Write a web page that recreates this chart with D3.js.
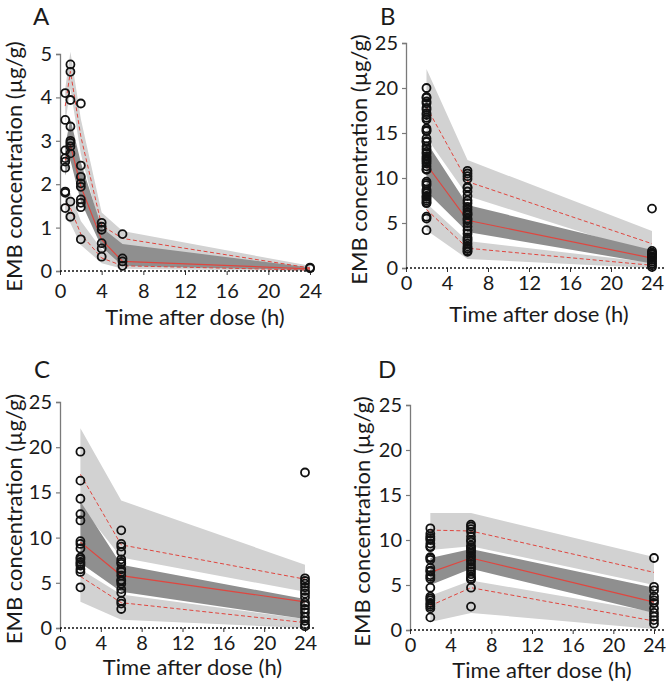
<!DOCTYPE html>
<html><head><meta charset="utf-8">
<script src="https://cdn.jsdelivr.net/npm/d3@7"></script>
<style>
html,body{margin:0;padding:0;background:#fff;}
svg text{font-family:Lato, "Open Sans", sans-serif;fill:#1a1a1a;}
</style></head>
<body><svg id="c" width="666" height="684"></svg>
<script>
// ---------- DATA ----------
const xTicks = [0, 4, 8, 12, 16, 20, 24];
const yTicksA = [0, 1, 2, 3, 4, 5];
const yTicksBCD = [0, 5, 10, 15, 20, 25];
const panelLetters = ["A", "B", "C", "D"];
const xLabel = "Time after dose (h)";
const yLabel = "EMB concentration (µg/g)";

// Panel A
const aTimes = [0.5, 1, 2, 4, 6, 24];
const aP95 = [3.8, 4.6, 3.1, 1.05, 0.75, 0.07];
const aP95Lo = [3.4, 4.2, 2.7, 0.85, 0.6, 0.04];
const aP95Hi = [4.2, 5.05, 3.5, 1.35, 0.92, 0.12];
const aP50 = [2.55, 2.9, 1.95, 0.72, 0.22, 0.05];
const aP50Lo = [2.2, 2.55, 1.6, 0.55, 0.12, 0.02];
const aP50Hi = [2.9, 3.5, 2.5, 1.0, 0.62, 0.08];
const aP5 = [1.55, 1.45, 0.85, 0.3, 0.12, 0.02];
const aP5Lo = [1.2, 1.1, 0.6, 0.18, 0.05, 0.0];
const aP5Hi = [1.75, 1.8, 1.15, 0.5, 0.22, 0.04];
const aObsTimes = [0.5, 1, 2, 4, 6, 24];
const aObsValues = [
  [4.1, 3.48, 2.78, 2.6, 2.52, 2.38, 1.83, 1.8, 1.45],
  [4.76, 4.59, 3.94, 3.33, 3.0, 2.95, 2.87, 2.71, 1.6, 1.25],
  [3.86, 2.43, 2.17, 2.02, 1.94, 1.65, 1.57, 1.47, 0.73],
  [1.11, 1.02, 0.95, 0.64, 0.52, 0.33],
  [0.85, 0.29, 0.22, 0.12],
  [0.06, 0.08]
];

// Panel B
const bTimes = [2, 6, 24];
const bP95 = [17.9, 9.6, 2.7];
const bP95Lo = [14.5, 8.0, 1.5];
const bP95Hi = [22.1, 12.0, 4.1];
const bP50 = [11.5, 5.3, 1.1];
const bP50Lo = [8.5, 4.0, 0.5];
const bP50Hi = [14.0, 7.0, 2.0];
const bP5 = [6.5, 2.2, 0.3];
const bP5Lo = [4.2, 1.0, 0.0];
const bP5Hi = [7.2, 3.0, 0.6];
const bObsTimes = [2, 6, 24];
const bObsValues = [
  [20.0, 19.0, 18.9, 18.5, 18.3, 17.8, 17.6, 17.2, 17.0, 16.7, 16.5, 15.5, 15.3, 15.2, 14.4, 14.1, 14.0, 13.5, 13.2, 12.9, 12.7, 12.4, 12.2, 12.0, 11.8, 11.6, 11.3, 11.0, 10.9, 9.6, 9.4, 9.2, 8.7, 8.5, 8.3, 8.0, 7.9, 7.7, 7.5, 7.3, 7.2, 5.7, 5.5, 4.2],
  [10.8, 10.5, 10.2, 9.9, 9.0, 8.9, 8.5, 8.0, 7.5, 7.2, 6.8, 6.5, 6.2, 6.0, 5.9, 5.5, 5.3, 5.0, 4.6, 4.2, 3.8, 3.4, 3.2, 3.0, 2.7, 2.4, 2.2, 2.1, 1.9, 1.8],
  [6.6, 1.9, 1.7, 1.6, 1.5, 1.3, 1.2, 1.1, 0.9, 0.7, 0.5, 0.3, 0.1]
];

// Panel C
const cTimes = [2, 6, 24];
const cP95 = [17.0, 9.2, 5.4];
const cP95Lo = [13.5, 7.8, 4.0];
const cP95Hi = [22.1, 14.1, 7.0];
const cP50 = [9.5, 5.8, 2.9];
const cP50Lo = [7.2, 4.0, 1.0];
const cP50Hi = [14.0, 7.0, 3.2];
const cP5 = [5.7, 2.8, 0.6];
const cP5Lo = [2.9, 0.9, 0.0];
const cP5Hi = [6.5, 3.7, 1.0];
const cObsTimes = [2, 6, 24];
const cObsValues = [
  [19.5, 16.3, 14.3, 12.6, 11.9, 9.6, 9.3, 8.8, 7.8, 7.6, 7.3, 7.1, 6.9, 6.5, 6.2, 4.5],
  [10.8, 9.3, 9.0, 8.4, 7.6, 7.3, 7.1, 6.5, 6.2, 5.8, 5.3, 5.2, 4.9, 4.3, 3.9, 3.0, 2.7, 2.1],
  [17.2, 5.5, 5.2, 4.9, 4.5, 4.1, 3.8, 3.4, 2.8, 2.5, 2.1, 1.7, 1.2, 0.8, 0.4, 0.2]
];

// Panel D
const dTimes = [2, 6, 24];
const dP95 = [11.1, 11.0, 6.4];
const dP95Lo = [8.9, 9.3, 5.0];
const dP95Hi = [13.0, 13.0, 8.1];
const dP50 = [6.4, 8.0, 3.1];
const dP50Lo = [5.0, 6.8, 1.9];
const dP50Hi = [8.0, 9.0, 4.7];
const dP5 = [2.7, 4.7, 1.0];
const dP5Lo = [0.9, 1.9, 0.1];
const dP5Hi = [3.8, 5.5, 2.0];
const dObsTimes = [2, 6, 24];
const dObsValues = [
  [11.3, 10.7, 10.4, 10.2, 10.0, 9.6, 9.3, 9.2, 8.1, 8.0, 7.8, 6.9, 6.6, 6.5, 6.1, 5.9, 5.7, 4.7, 3.7, 3.5, 3.3, 3.0, 2.8, 2.6, 2.4, 1.4],
  [11.7, 11.5, 11.2, 10.9, 10.4, 10.0, 9.8, 9.4, 9.2, 9.0, 8.8, 8.6, 8.3, 8.1, 7.8, 7.6, 7.3, 7.0, 6.8, 6.5, 6.2, 5.9, 5.7, 5.6, 4.7, 2.6],
  [8.0, 4.8, 4.4, 3.7, 3.3, 3.0, 2.4, 1.9, 1.5, 1.1, 0.7]
];

// ---------- LAYOUT ----------
const panels = [
  {letter: panelLetters[0], times: aTimes, p95: aP95, p95Lo: aP95Lo, p95Hi: aP95Hi, p50: aP50, p50Lo: aP50Lo, p50Hi: aP50Hi, p5: aP5, p5Lo: aP5Lo, p5Hi: aP5Hi, obsT: aObsTimes, obsV: aObsValues,
   yMax: 5, yTicks: yTicksA, x0: 60, x1: 310, y0: 271, y1: 54, axisEnd: 316, lx: 33, ly: 25, ylx: 14, xlBase: 325, tickPad: 9},
  {letter: panelLetters[1], times: bTimes, p95: bP95, p95Lo: bP95Lo, p95Hi: bP95Hi, p50: bP50, p50Lo: bP50Lo, p50Hi: bP50Hi, p5: bP5, p5Lo: bP5Lo, p5Hi: bP5Hi, obsT: bObsTimes, obsV: bObsValues,
   yMax: 25, yTicks: yTicksBCD, x0: 406, x1: 652, y0: 268, y1: 43, axisEnd: 664, lx: 380, ly: 25, ylx: 359, xlBase: 322, tickPad: 4},
  {letter: panelLetters[2], times: cTimes, p95: cP95, p95Lo: cP95Lo, p95Hi: cP95Hi, p50: cP50, p50Lo: cP50Lo, p50Hi: cP50Hi, p5: cP5, p5Lo: cP5Lo, p5Hi: cP5Hi, obsT: cObsTimes, obsV: cObsValues,
   yMax: 25, yTicks: yTicksBCD, x0: 60, x1: 305, y0: 628, y1: 402, axisEnd: 315, lx: 34, ly: 378, ylx: 14, xlBase: 675, tickPad: 4},
  {letter: panelLetters[3], times: dTimes, p95: dP95, p95Lo: dP95Lo, p95Hi: dP95Hi, p50: dP50, p50Lo: dP50Lo, p50Hi: dP50Hi, p5: dP5, p5Lo: dP5Lo, p5Hi: dP5Hi, obsT: dObsTimes, obsV: dObsValues,
   yMax: 25, yTicks: yTicksBCD, x0: 410, x1: 654, y0: 630, y1: 405, axisEnd: 666, lx: 378, ly: 378, ylx: 362, xlBase: 678, tickPad: 4}
];

const svg = d3.select("#c");
const LIGHT = "#d2d2d2", DARK = "#8f8f8f", RED = "#e0463f";

panels.forEach(p => {
  const g = svg.append("g");
  const x = d3.scaleLinear().domain([0, 24]).range([p.x0, p.x1]);
  const y = d3.scaleLinear().domain([0, p.yMax]).range([p.y0, p.y1]);
  const idx = d3.range(p.times.length);
  const band = (lo, hi) => d3.area().x(i => x(p.times[i])).y0(i => y(lo[i])).y1(i => y(hi[i]))(idx);
  const line = (v) => d3.line().x(i => x(p.times[i])).y(i => y(v[i]))(idx);

  g.append("path").attr("d", band(p.p95Lo, p.p95Hi)).attr("fill", LIGHT);
  g.append("path").attr("d", band(p.p5Lo, p.p5Hi)).attr("fill", LIGHT);
  g.append("path").attr("d", band(p.p50Lo, p.p50Hi)).attr("fill", DARK);

  g.append("path").attr("d", line(p.p95)).attr("fill", "none").attr("stroke", RED).attr("stroke-width", 1).attr("stroke-dasharray", "4,2.5");
  g.append("path").attr("d", line(p.p5)).attr("fill", "none").attr("stroke", RED).attr("stroke-width", 1).attr("stroke-dasharray", "4,2.5");
  g.append("path").attr("d", line(p.p50)).attr("fill", "none").attr("stroke", RED).attr("stroke-width", 1.2);

  // y axis
  const ya = d3.axisLeft(y).tickValues(p.yTicks).tickSize(4).tickPadding(4).tickFormat(d3.format("d"));
  const yg = g.append("g").attr("transform", `translate(${p.x0},0)`).call(ya);
  yg.select(".domain").attr("stroke", "#7a7a7a").attr("stroke-width", 1.3);
  yg.selectAll(".tick line").attr("stroke", "#7a7a7a").attr("stroke-width", 1.2);
  yg.selectAll(".tick text").attr("font-size", 20).attr("font-family", "Lato").attr("fill", "#1a1a1a");

  // x axis
  const xa = d3.axisBottom(x).tickValues(xTicks).tickSize(4).tickPadding(p.tickPad).tickFormat(d3.format("d"));
  const xg = g.append("g").attr("transform", `translate(0,${p.y0})`).call(xa);
  xg.select(".domain").remove();
  xg.selectAll(".tick line").attr("stroke", "#333").attr("stroke-width", 1);
  xg.selectAll(".tick text").attr("font-size", 20).attr("font-family", "Lato").attr("fill", "#1a1a1a");
  g.append("line").attr("x1", p.x0).attr("x2", p.axisEnd).attr("y1", p.y0).attr("y2", p.y0)
    .attr("stroke", "#111").attr("stroke-width", 1.6).attr("stroke-dasharray", "2,2");

  // observations
  const pts = [];
  p.obsT.forEach((t, i) => p.obsV[i].forEach(v => pts.push([t, v])));
  g.selectAll("circle.o").data(pts).enter().append("circle")
    .attr("cx", d => x(d[0])).attr("cy", d => y(d[1])).attr("r", 4)
    .attr("fill", "none").attr("stroke", "#111").attr("stroke-width", 1.8);

  // labels
  g.append("text").attr("x", (p.x0 + p.x1) / 2 + 10).attr("y", p.xlBase).attr("text-anchor", "middle")
    .attr("font-size", 22).text(xLabel);
  g.append("text").attr("transform", `translate(${p.ylx + 8},${(p.y0 + p.y1) / 2 + 4}) rotate(-90)`)
    .attr("text-anchor", "middle").attr("font-size", 22).text(yLabel);
  g.append("text").attr("x", p.lx).attr("y", p.ly).attr("font-size", 24).text(p.letter);
});
</script></body></html>
